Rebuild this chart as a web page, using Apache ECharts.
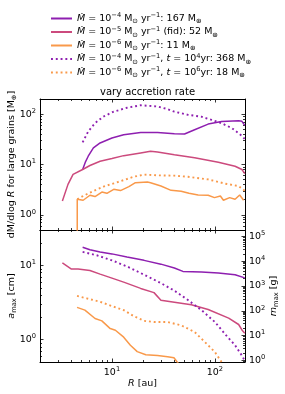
<!DOCTYPE html>
<html><head><meta charset="utf-8">
<script src="https://cdn.jsdelivr.net/npm/echarts@6/dist/echarts.min.js"></script>
<style>html,body{margin:0;padding:0;background:#fff}#c{width:285px;height:394px}</style>
</head><body><div id="c"></div>
<script>
// ---- data (R [au], value) ----
const topMdot4 = [[5.19,7.96],[5.5,11],[5.88,14.6],[6.6,21.3],[7.67,26.8],[10,33.6],[13,39],[19,43.4],[27.7,43.4],[40.4,41],[50.7,40.3],[63.5,49],[86,63.5],[116,71.5],[170,73.8],[183,72],[195,60]];
const topMdot5 = [[3.3,1.89],[3.74,4.03],[4.19,6.35],[5.19,7.96],[6.11,9.56],[7.67,11.6],[10,13.1],[13,15],[19,17],[23.7,18.3],[27.7,17.8],[40.4,15.7],[63.5,13.6],[108,11.1],[157,9.25],[183,7.96],[195,6.6]];
const topMdot6 = [[4.6,0.05],[4.6,2.04],[5.25,1.95],[6.11,2.45],[6.85,2.31],[7.98,2.84],[8.93,2.68],[10.4,3.21],[12.1,3.03],[14.6,3.63],[16.9,4.35],[22.1,4.48],[23.7,4.35],[29.9,3.73],[37.5,3.07],[47,2.95],[56,2.68],[68.7,2.48],[86,2.45],[99,2.2],[113,2.37],[121,1.95],[139,2.2],[157,2.04],[174,2.48],[190,1.95]];
const topMdot4t = [[5.19,27.5],[5.88,45.4],[6.85,66.4],[8.26,89.7],[10.4,112],[14,134],[19,150],[27.7,142],[34.7,126],[40.4,112],[54.7,97],[74,89],[92.7,77],[116,66],[146,53],[183,37],[195,32]];
const topMdot6t = [[4.6,2.04],[5.25,2.37],[6.6,2.97],[8.26,3.63],[10.4,4.22],[13,4.9],[16.3,5.72],[20.5,6.3],[27.7,6.1],[40.4,6.0],[54.7,5.7],[86,5.06],[126,4.16],[170,3.73],[195,3.0]];

const amaxMdot4 = [[5.19,17.6],[6.11,16.3],[7.67,15.2],[10,14.3],[14,13],[20.5,11.7],[29.9,10.4],[40.4,9.22],[48.9,8.3],[74,8.13],[108,7.88],[157,7.48],[195,6.8]];
const amaxMdot5 = [[3.3,10.8],[4.04,8.94],[4.69,8.94],[6.11,8.55],[7.67,7.64],[10,6.74],[13,5.95],[19,4.9],[25.6,4.3],[29.9,3.4],[40.4,3.2],[59,2.95],[86,2.55],[136,1.95],[170,1.6],[183,1.35],[195,1.22]];
const amaxMdot6 = [[4.58,2.72],[5.46,2.5],[6.85,1.93],[7.98,1.79],[9.62,1.41],[10.8,1.34],[13,1.08],[15.1,0.84],[17.6,0.69],[21.3,0.625],[27.7,0.61],[34.7,0.59],[40,0.57],[43,0.5],[46,0.45]];
const amaxMdot4t = [[5.19,15.2],[7.11,13.7],[10,11.7],[14,9.69],[20.5,7.5],[29.9,5.77],[40.4,4.57],[54.7,3.42],[74,2.5],[100,1.73],[126,1.18],[157,0.84],[183,0.61],[195,0.52]];
const amaxMdot6t = [[4.58,3.88],[5.68,3.6],[7.67,3.24],[10,2.83],[13,2.5],[16.3,2.07],[20.5,1.79],[25.6,1.73],[34.7,1.73],[47,1.56],[63.5,1.27],[79.8,0.93],[100,0.68],[116,0.5]];

const xMajor = [10, 100];
const xMinor = [2,3,4,5,6,7,8,9,20,30,40,50,60,70,80,90];
const yTopMajor = [1, 10, 100];
const yTopMinor = [0.5,0.6,0.7,0.8,0.9,2,3,4,5,6,7,8,9,20,30,40,50,60,70,80,90,200];
const aMajor = [1, 10];
const aMinor = [0.5,0.6,0.7,0.8,0.9,2,3,4,5,6,7,8,9,20,30];
const mMajor = [1, 10, 100, 1000, 10000, 100000];
const mMinor = [0.9,2,3,4,5,6,7,8,9,20,30,40,50,60,70,80,90,200,300,400,500,600,700,800,900,
  2000,3000,4000,5000,6000,7000,8000,9000,20000,30000,40000,50000,60000,70000,80000,90000];

const legendLabels = [
  '{i|Ṁ}{n| = 10}{sup|−4}{n| M}{sub|⊙}{n| yr}{sup|−1}{n|: 167 M}{sub|⊕}',
  '{i|Ṁ}{n| = 10}{sup|−5}{n| M}{sub|⊙}{n| yr}{sup|−1}{n| (fid): 52 M}{sub|⊕}',
  '{i|Ṁ}{n| = 10}{sup|−6}{n| M}{sub|⊙}{n| yr}{sup|−1}{n|: 11 M}{sub|⊕}',
  '{i|Ṁ}{n| = 10}{sup|−4}{n| M}{sub|⊙}{n| yr}{sup|−1}{n|, }{i|t}{n| = 10}{sup|4}{n|yr: 368 M}{sub|⊕}',
  '{i|Ṁ}{n| = 10}{sup|−6}{n| M}{sub|⊙}{n| yr}{sup|−1}{n|, }{i|t}{n| = 10}{sup|6}{n|yr: 18 M}{sub|⊕}'
];
const seriesNames = ['s1','s2','s3','s4','s5'];
const colors = ['#8e1fb0','#cc4a7d','#f9994a'];

// ---- styling ----
const FONT = 'DejaVu Sans';
const FS = 9.5;
const rich = {
  n:{fontFamily:FONT,fontSize:FS,color:'#000',lineHeight:13},
  i:{fontFamily:FONT,fontSize:FS,fontStyle:'italic',color:'#000',lineHeight:13},
  sup:{fontFamily:FONT,fontSize:6.7,color:'#000',verticalAlign:'top',lineHeight:8},
  sub:{fontFamily:FONT,fontSize:6.7,color:'#000',verticalAlign:'bottom',lineHeight:8}
};
function expLabel(v){ const e = Math.round(Math.log10(v)); return '{n|10}{sup|' + (e<0?'−'+(-e):e) + '}'; }

const G0 = {left:40, top:99, width:205, height:131, containLabel:false, outerBoundsMode:'none'};
const G1 = {left:40, top:230, width:205, height:132, containLabel:false, outerBoundsMode:'none'};

function logAxis(o){
  const major = o.major;
  const a = {
    type:'log', gridIndex:o.grid, position:o.pos, min:o.min, max:o.max,
    axisLine:{show:!!major, onZero:false, lineStyle:{color:'#000', width:1}},
    axisTick:{show:true, inside:true, length: major?3.5:2, customValues:o.ticks, lineStyle:{color:'#000', width:0.8}},
    axisLabel:{show:!!o.labels, customValues:o.labels||undefined, formatter:expLabel, margin:4, rich:rich, color:'#000'},
    splitLine:{show:false}, minorTick:{show:false}, minorSplitLine:{show:false},
    silent:true
  };
  if (o.name){ a.name=o.name; a.nameLocation='middle'; a.nameGap=o.nameGap; a.nameRotate=o.nameRotate; a.nameMoveOverlap=false; a.nameTextStyle={rich:rich}; }
  return a;
}

const xAxis = [
  logAxis({grid:0,pos:'bottom',min:2,max:196,major:true,ticks:xMajor}),
  logAxis({grid:0,pos:'bottom',min:2,max:196,major:false,ticks:xMinor}),
  logAxis({grid:0,pos:'top',min:2,max:196,major:true,ticks:xMajor}),
  logAxis({grid:0,pos:'top',min:2,max:196,major:false,ticks:xMinor}),
  logAxis({grid:1,pos:'bottom',min:2,max:196,major:true,ticks:xMajor,labels:xMajor,name:'{i|R}{n| [au]}',nameGap:15,nameRotate:0}),
  logAxis({grid:1,pos:'bottom',min:2,max:196,major:false,ticks:xMinor}),
  logAxis({grid:1,pos:'top',min:2,max:196,major:true,ticks:xMajor}),
  logAxis({grid:1,pos:'top',min:2,max:196,major:false,ticks:xMinor})
];
const yAxis = [
  logAxis({grid:0,pos:'left',min:0.5,max:200,major:true,ticks:yTopMajor,labels:yTopMajor,name:'{n|dM/dlog }{i|R}{n| for large grains [M}{sub|⊕}{n|]}',nameGap:22,nameRotate:90}),
  logAxis({grid:0,pos:'left',min:0.5,max:200,major:false,ticks:yTopMinor}),
  logAxis({grid:0,pos:'right',min:0.5,max:200,major:true,ticks:yTopMajor}),
  logAxis({grid:0,pos:'right',min:0.5,max:200,major:false,ticks:yTopMinor}),
  logAxis({grid:1,pos:'left',min:0.5,max:30,major:true,ticks:aMajor,labels:aMajor,name:'{i|a}{sub|max}{n| [cm]}',nameGap:22,nameRotate:90}),
  logAxis({grid:1,pos:'left',min:0.5,max:30,major:false,ticks:aMinor}),
  logAxis({grid:1,pos:'right',min:0.85,max:183600,major:true,ticks:mMajor,labels:mMajor,name:'{i|m}{sub|max}{n| [g]}',nameGap:22,nameRotate:90}),
  logAxis({grid:1,pos:'right',min:0.85,max:183600,major:false,ticks:mMinor})
];

function mk(name, data, color, dotted, xi, yi){
  return {
    name: name, type:'line', data:data, xAxisIndex:xi, yAxisIndex:yi,
    symbol:'none', smooth:false, clip:true, silent:true, animation:false,
    lineStyle: dotted ? {color:color, width:1.9, type:[1.9,2.9]} : {color:color, width:1.5},
    itemStyle:{color:color}
  };
}

const series = [
  mk('s1', topMdot4, colors[0], false, 0, 0),
  mk('s2', topMdot5, colors[1], false, 0, 0),
  mk('s3', topMdot6, colors[2], false, 0, 0),
  mk('s4', topMdot4t, colors[0], true, 0, 0),
  mk('s5', topMdot6t, colors[2], true, 0, 0),
  mk('s1', amaxMdot4, colors[0], false, 4, 4),
  mk('s2', amaxMdot5, colors[1], false, 4, 4),
  mk('s3', amaxMdot6, colors[2], false, 4, 4),
  mk('s4', amaxMdot4t, colors[0], true, 4, 4),
  mk('s5', amaxMdot6t, colors[2], true, 4, 4)
];

const chart = echarts.init(document.getElementById('c'), null, {renderer:'canvas'});
chart.setOption({
  animation:false,
  backgroundColor:'#fff',
  title:{text:'vary accretion rate', left:142.5, textAlign:'center', top:82, textStyle:{fontFamily:FONT, fontSize:10, fontWeight:'normal', color:'#000'}},
  legend:{
    data:seriesNames, orient:'vertical', left:45, top:7, itemWidth:21, itemHeight:10, itemGap:0.5,
    itemStyle:{opacity:0, borderWidth:0},
    formatter:function(n){ return legendLabels[seriesNames.indexOf(n)]; },
    textStyle:{rich:rich, fontFamily:FONT, fontSize:FS, lineHeight:13}, selectedMode:false
  },
  grid:[G0, G1],
  xAxis:xAxis, yAxis:yAxis, series:series
});
</script></body></html>
